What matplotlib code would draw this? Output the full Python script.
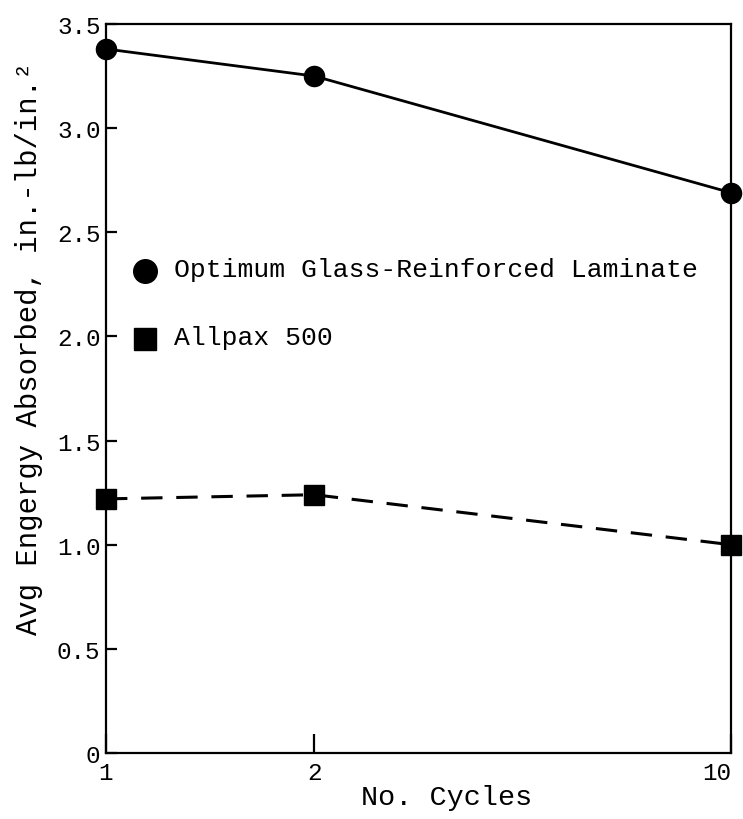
import matplotlib
matplotlib.use("Agg")
import matplotlib.pyplot as plt

# Number of cycles (categories) and their positions along the axis
cycles = ["1", "2", "10"]
cycle_pos = [0, 1, 3]

# Average energy absorbed, in.-lb/in.^2
glass_laminate = [3.38, 3.25, 2.69]
allpax_500 = [1.22, 1.24, 1.00]

y_ticks = [0, 0.5, 1.0, 1.5, 2.0, 2.5, 3.0, 3.5]
y_tick_labels = ["0", "0.5", "1.0", "1.5", "2.0", "2.5", "3.0", "3.5"]

series_names = ["Optimum Glass-Reinforced Laminate", "Allpax 500"]

FONT = "Liberation Mono"
plt.rcParams["font.family"] = [FONT, "DejaVu Sans"]

fig = plt.figure(figsize=(7.43, 8.20), dpi=100)
ax = fig.add_axes([106 / 743, 66 / 820, 625 / 743, 729 / 820])

ax.plot(cycle_pos, glass_laminate, color="black", lw=2.0, marker="o",
        markersize=14.5, clip_on=False, zorder=3)
ax.plot(cycle_pos, allpax_500, color="black", lw=2.2, ls=(0, (7, 4.5)),
        marker="s", markersize=15, clip_on=False, zorder=3,
        solid_joinstyle="round")

ax.set_xlim(0, 3)
ax.set_ylim(0, 3.5)

for s in ax.spines.values():
    s.set_linewidth(1.6)

ax.set_xticks(cycle_pos)
ax.set_xticklabels(cycles, fontsize=17.5)
ax.get_xticklabels()[-1].set_horizontalalignment("right")
ax.set_yticks(y_ticks)
ax.set_yticklabels(y_tick_labels, fontsize=17.5)
ax.tick_params(axis="y", direction="in", length=8, width=1.6, pad=4)
ax.tick_params(axis="x", direction="in", length=14, width=1.6, pad=6)

ax.set_xlabel("No. Cycles", fontsize=20.5)
ax.xaxis.set_label_coords(0.545, -0.043)
ax.set_ylabel("Avg Engergy Absorbed, in.-lb/in.\u00b2", fontsize=20.8)
ax.yaxis.set_label_coords(-0.1, 0.557)

# Key: marker symbols with their series names
key_x, text_x = 0.062, 0.108
key_rows = [0.661, 0.568]
key_markers = [("o", 17), ("s", 16)]
for name, (mk, ms), yk in zip(series_names, key_markers, key_rows):
    ax.plot([key_x], [yk], transform=ax.transAxes, marker=mk, markersize=ms,
            color="black", ls="none", clip_on=False)
    ax.text(text_x, yk + 0.003, name, transform=ax.transAxes, fontsize=19,
            va="center", ha="left")

fig.savefig("out.png", dpi=100, facecolor="white")
